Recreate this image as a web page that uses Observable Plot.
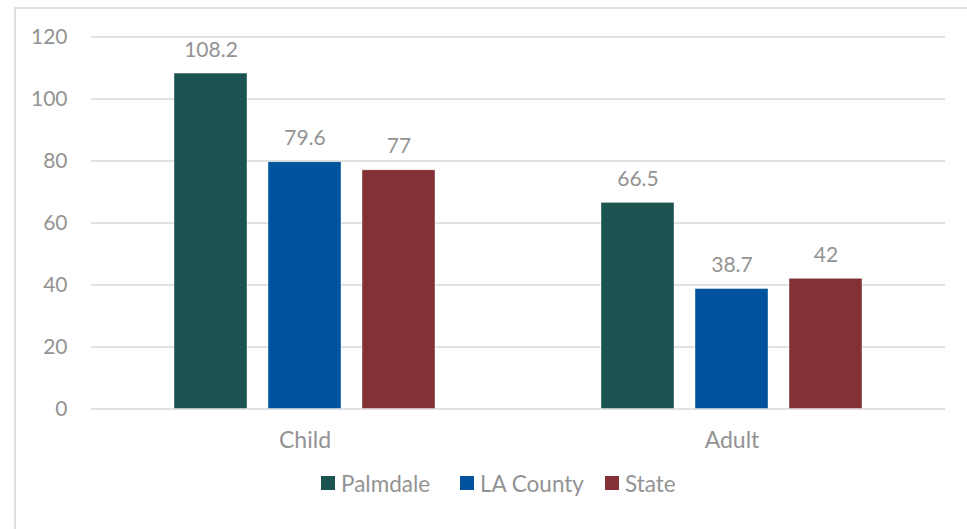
<!DOCTYPE html>
<html>
<head>
<meta charset="utf-8">
<script src="https://cdn.jsdelivr.net/npm/d3@7"></script>
<script src="https://cdn.jsdelivr.net/npm/@observablehq/plot@0.6"></script>
<style>
  html, body { margin: 0; padding: 0; background: #fff; width: 967px; height: 529px; overflow: hidden; }
  #frame { position: absolute; left: 14px; top: 7px; width: 980px; height: 540px;
           border-left: 2px solid #e0e0e0; border-top: 2px solid #e0e0e0; box-sizing: border-box; }
  #chart { position: absolute; left: 0; top: 0; }
  #legend { position: absolute; left: 0; top: 470px; width: 967px; height: 26px;
            font-family: Lato, sans-serif; font-size: 22.5px; color: #939393; }
  .item { position: absolute; top: 0; display: flex; align-items: center; height: 26px; }
  .sw { width: 14px; height: 14px; margin-right: 6px; }
</style>
</head>
<body>
<div id="frame"></div>
<div id="chart"></div>
<div id="legend"></div>
<script>
const groups = ["Child", "Adult"];
const series = ["Palmdale", "LA County", "State"];
const colors = ["#1b5351", "#01539d", "#833137"];
const childValues = [108.2, 79.6, 77];
const adultValues = [66.5, 38.7, 42];
const yTicks = [0, 20, 40, 60, 80, 100, 120];

const valuesByGroup = { Child: childValues, Adult: adultValues };
const data = groups.flatMap(g => series.map((s, i) => ({ group: g, series: s, value: valuesByGroup[g][i] })));

const font = 'Lato, sans-serif';
const grey = "#939393";
const chart = Plot.plot({
  width: 967,
  height: 460,
  marginLeft: 91,
  marginRight: 22,
  marginTop: 36.5,
  marginBottom: 51.5,
  style: { fontFamily: font, fontSize: "21px", color: grey, background: "transparent" },
  fx: { domain: groups, paddingInner: 0, paddingOuter: 0, label: null },
  x: { domain: series, paddingInner: 0.221, paddingOuter: 0.858, axis: null },
  y: { domain: [0, 120], axis: null },
  color: { domain: series, range: colors },
  marks: [
    Plot.gridY(yTicks, { stroke: "#d9d9d9", strokeOpacity: 1, strokeWidth: 1.5 }),
    Plot.axisY(yTicks, { tickSize: 0, tickPadding: 24, fill: grey, fontSize: 21, label: null }),
    Plot.axisFx({ anchor: "bottom", tickSize: 0, tickPadding: 23, fill: grey, fontSize: 23, label: null }),
    Plot.barY(data, { fx: "group", x: "series", y: "value", fill: "series", stroke: "#ffffff", strokeWidth: 0.8, strokeOpacity: 0.5 }),
    Plot.text(data, { fx: "group", x: "series", y: "value", text: d => String(d.value), lineAnchor: "bottom", dy: -17, fill: grey, fontSize: 21 })
  ]
});
document.getElementById("chart").appendChild(chart);

const legend = document.getElementById("legend");
const lefts = [321, 460, 605];
series.forEach((s, i) => {
  const item = document.createElement("div");
  item.className = "item";
  item.style.left = lefts[i] + "px";
  const sw = document.createElement("div");
  sw.className = "sw";
  sw.style.background = colors[i];
  const label = document.createElement("span");
  label.textContent = s;
  item.appendChild(sw);
  item.appendChild(label);
  legend.appendChild(item);
});
</script>
</body>
</html>
